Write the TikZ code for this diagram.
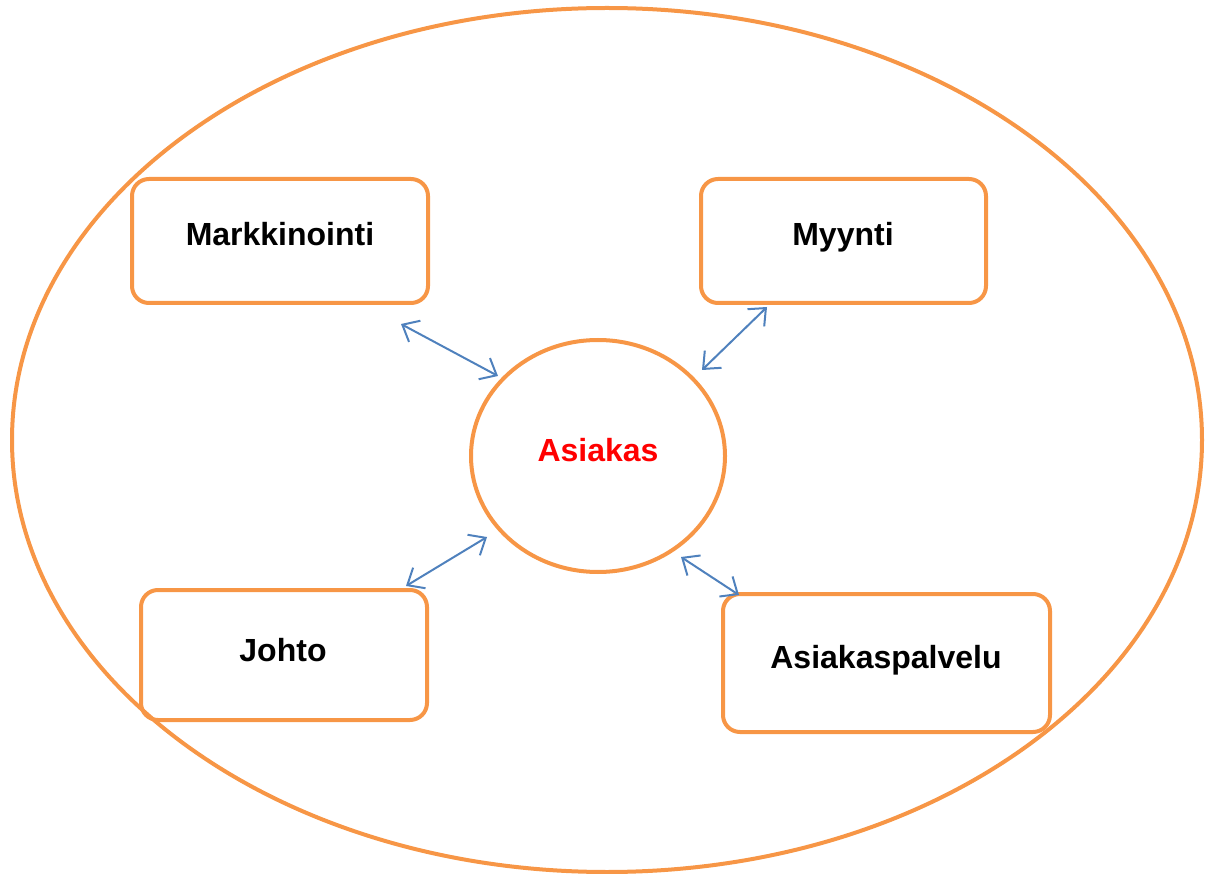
\documentclass[tikz,border=0pt]{standalone}
\usepackage{fontspec}
\setmainfont{Liberation Sans}
\usetikzlibrary{arrows.meta,shapes.geometric}
\definecolor{org}{HTML}{F79646}
\definecolor{blu}{HTML}{4F81BD}
\definecolor{red}{HTML}{FF0000}
\tikzset{
  box/.style={draw=org, line width=4pt, rounded corners=17pt},
  lbl/.style={font=\bfseries\fontsize{32}{38}\selectfont, text=black},
  link/.style={draw=blu, line width=2pt, {Straight Barb[length=14pt,width=24pt]}-{Straight Barb[length=14pt,width=24pt]}}
}
\begin{document}
\begin{tikzpicture}[x=1pt,y=-1pt]
\useasboundingbox (0,0) rectangle (1208,874);
\node[draw=org, line width=4pt, ellipse, minimum width=1190pt, minimum height=864pt, inner sep=0pt] (outer) at (607,440) {};
\node[draw=org, line width=4pt, ellipse, minimum width=254pt, minimum height=232pt, inner sep=0pt] (asiakas) at (598,456) {};
\node[lbl, text=red] (asiakastext) at (598,450) {Asiakas};
\draw[box] (132,179) rectangle (428,303);
\node[lbl] (mark) at (280,234) {Markkinointi};
\draw[box] (701,179) rectangle (986,303);
\node[lbl] (myy) at (843,237) {Myynti};
\draw[box] (141,590) rectangle (427,720);
\node[lbl] (joh) at (283,650) {Johto};
\draw[box] (723,594) rectangle (1050,732);
\node[lbl] (asp) at (886,660) {Asiakaspalvelu};
\coordinate (a1) at (401,324); \coordinate (b1) at (498,376);
\coordinate (a2) at (767,307); \coordinate (b2) at (702,370);
\coordinate (a3) at (406,586); \coordinate (b3) at (487,537);
\coordinate (a4) at (681,557); \coordinate (b4) at (739,595);
\draw[link] (a1) -- (b1);
\draw[link] (a2) -- (b2);
\draw[link] (a3) -- (b3);
\draw[link] (a4) -- (b4);
\end{tikzpicture}
\end{document}
